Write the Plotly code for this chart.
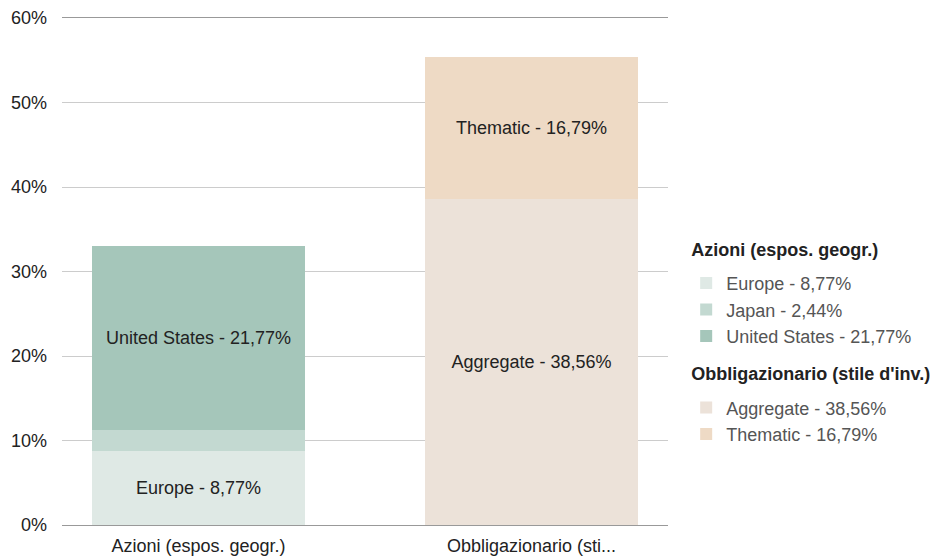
import plotly.graph_objects as go

categories = ["Azioni (espos. geogr.)", "Obbligazionario (sti..."]

azioni_names = ["Europe", "Japan", "United States"]
azioni_values = [8.77, 2.44, 21.77]
obbl_names = ["Aggregate", "Thematic"]
obbl_values = [38.56, 16.79]

azioni_group_title = "Azioni (espos. geogr.)"
obbl_group_title = "Obbligazionario (stile d'inv.)"

y_ticks = [0, 10, 20, 30, 40, 50, 60]
y_tick_labels = ["0%", "10%", "20%", "30%", "40%", "50%", "60%"]

azioni_colors = ["#dfe9e5", "#c3d9d1", "#a5c6ba"]
obbl_colors = ["#ece2d9", "#eedac5"]

FONT = "Liberation Sans, Arial, Helvetica, sans-serif"
TXT = "#222222"


def fmt(v):
    return f"{v:.2f}".replace(".", ",") + "%"


def group_title(text):
    # visible text at 18px; small layout font + blank second line adds spacing below title
    return f"<span style='font-size:18px'>{text}</span><br> "


fig = go.Figure()


def add_group(names, values, colors, cat, group, title):
    for name, val, col in zip(names, values, colors):
        label = f"{name} - {fmt(val)}"
        fig.add_trace(go.Bar(
            x=[cat], y=[val], name=label,
            marker=dict(color=col, line=dict(width=0)),
            text=[label if val >= 5 else ""], textposition="inside",
            insidetextanchor="middle",
            textfont=dict(family=FONT, size=18, color=TXT), width=0.637,
            legendgroup=group,
            legendgrouptitle=dict(text=group_title(title),
                                  font=dict(family=FONT, size=8.2, color=TXT, weight="bold")),
            hoverinfo="skip",
        ))


add_group(azioni_names, azioni_values, azioni_colors, categories[0], "az", azioni_group_title)
add_group(obbl_names, obbl_values, obbl_colors, categories[1], "ob", obbl_group_title)

fig.update_layout(
    width=944, height=556,
    margin=dict(l=62, r=276, t=18, b=31, pad=0, autoexpand=False),
    barmode="stack",
    plot_bgcolor="white", paper_bgcolor="white",
    font=dict(family=FONT, size=18, color=TXT),
    showlegend=True,
    legend=dict(
        x=1.03, xanchor="left", y=0.561, yanchor="top",
        traceorder="grouped", tracegroupgap=21,
        font=dict(family=FONT, size=18, color="#555555"),
        itemclick=False, itemdoubleclick=False,
    ),
    xaxis=dict(
        type="category", range=[-0.41, 1.41], automargin=False,
        showgrid=False, showline=True, mirror=True, linecolor="#999999", linewidth=1,
        ticks="", ticklabelstandoff=4,
        tickfont=dict(family=FONT, size=18, color=TXT), fixedrange=True,
    ),
    yaxis=dict(
        range=[0, 60], tickmode="array", tickvals=y_ticks, ticktext=y_tick_labels,
        automargin=False,
        showgrid=True, gridcolor="#cccccc", gridwidth=1, zeroline=False,
        showline=False, ticks="", ticklabelstandoff=14,
        tickfont=dict(family=FONT, size=18, color=TXT), fixedrange=True,
    ),
)

fig.write_html(
    "out.html",
    config={"displayModeBar": False},
    post_script="document.body.style.margin='0';document.body.style.overflow='hidden';",
)
